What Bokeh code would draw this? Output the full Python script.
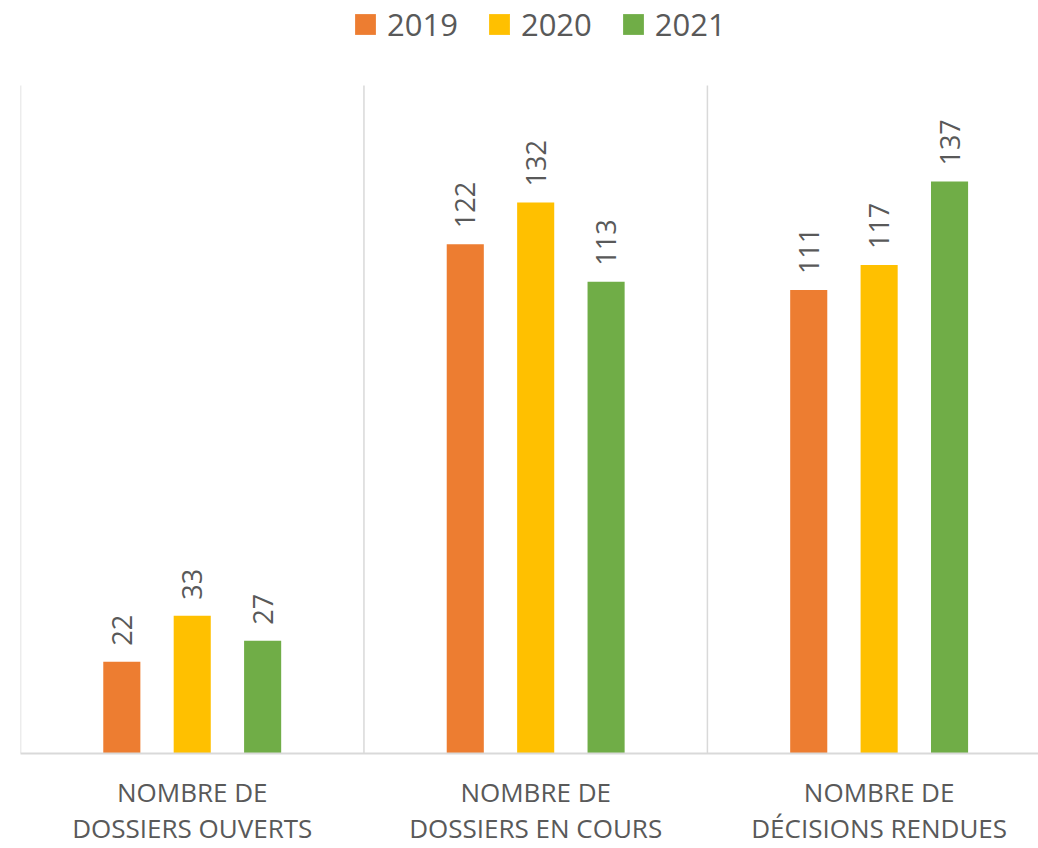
from bokeh.plotting import figure
from bokeh.models import ColumnDataSource, Range1d, FixedTicker, Legend, LegendItem, LabelSet
from bokeh.embed import file_html
from bokeh.resources import INLINE
from bokeh.core.properties import value
import math

categories = ["NOMBRE DE\nDOSSIERS OUVERTS", "NOMBRE DE\nDOSSIERS EN COURS", "NOMBRE DE\nDÉCISIONS RENDUES"]
years = ["2019", "2020", "2021"]
v2019 = [22, 122, 111]
v2020 = [33, 132, 117]
v2021 = [27, 113, 137]
colors = ["#ED7D31", "#FFC000", "#70AD47"]
y_axis_max = 160

series = [v2019, v2020, v2021]
offsets = [-0.205, 0.0, 0.205]
FONT = "Open Sans"
GRAY = "#595959"

# frame covers the legend area too; the value axis tops out at y_axis_max (85px from the top)
p = figure(width=1038, height=848, output_backend="svg", toolbar_location=None,
           x_range=Range1d(0, 2.964), y_range=Range1d(0, y_axis_max * 753 / 668),
           min_border_left=20, min_border_right=0, min_border_top=0, min_border_bottom=95)
p.outline_line_color = None
p.background_fill_color = "white"

# category separators, from the baseline up to the value-axis maximum
bounds = list(range(len(categories) + 1))
p.segment(x0=bounds, y0=[0] * len(bounds), x1=bounds, y1=[y_axis_max] * len(bounds),
          line_color="#D9D9D9", line_width=1.5)

centers = [i + 0.5 for i in range(len(categories))]
items = []
for yr, vals, off, col in zip(years, series, offsets, colors):
    src = ColumnDataSource(dict(x=[c + off for c in centers], top=vals,
                                lab=[str(v) for v in vals]))
    r = p.vbar(x="x", top="top", width=0.108, source=src, fill_color=col, line_color=None)
    items.append(LegendItem(label=yr, renderers=[r]))
    p.add_layout(LabelSet(x="x", y="top", text="lab", source=src, angle=math.pi / 2,
                          text_align="left", text_baseline="middle", y_offset=16,
                          text_font=value(FONT), text_font_size="27px", text_color=GRAY))

p.yaxis.visible = False
p.ygrid.visible = False
p.xgrid.visible = False

xa = p.xaxis[0]
xa.ticker = FixedTicker(ticks=centers)
xa.major_label_overrides = {c: lab for c, lab in zip(centers, categories)}
xa.major_tick_line_color = None
xa.minor_tick_line_color = None
xa.axis_line_color = "#D9D9D9"
xa.axis_line_width = 2
xa.major_label_text_font = FONT
xa.major_label_text_font_size = "26px"
xa.major_label_text_color = GRAY
xa.major_label_standoff = 14
xa.major_label_text_line_height = 1.0

legend = Legend(items=items, orientation="horizontal", location=(332, 708),
                label_text_font=FONT, label_text_font_size="31px", label_text_color=GRAY,
                glyph_width=26, glyph_height=26, label_standoff=9, spacing=28,
                border_line_color=None, background_fill_alpha=0, margin=0, padding=0)
p.add_layout(legend, "center")

open("out.html", "w").write(file_html(p, INLINE))
